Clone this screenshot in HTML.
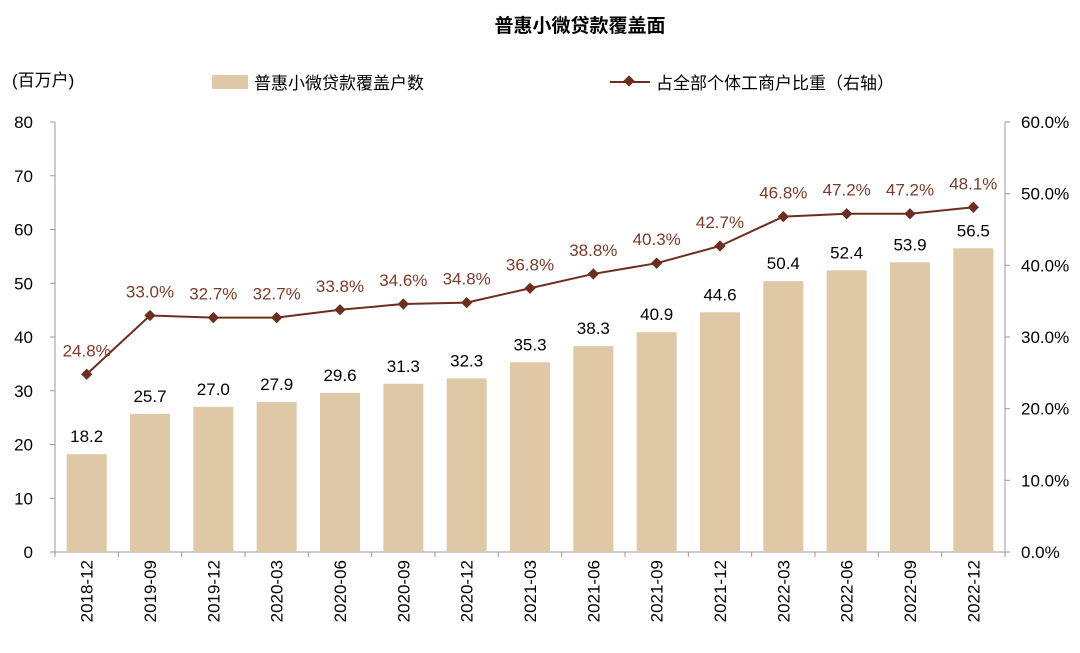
<!DOCTYPE html>
<html><head><meta charset="utf-8">
<style>
body{margin:0;background:#fff;font-family:"Liberation Sans","Noto Sans CJK SC",sans-serif;}
svg text{font-family:"Liberation Sans","Noto Sans CJK SC",sans-serif;}
</style></head>
<body>
<svg id="chart" width="1080" height="648" xmlns="http://www.w3.org/2000/svg">
<text x="580" y="32" text-anchor="middle" font-size="19" font-weight="bold" fill="#000">普惠小微贷款覆盖面</text>
<text x="12" y="86" font-size="17" fill="#000">(百万户)</text>
<g>
<rect x="212" y="75" width="36" height="14" fill="#dfc8a6"/>
<text x="254" y="89" font-size="17" fill="#000">普惠小微贷款覆盖户数</text>
<line x1="610" y1="82" x2="650" y2="82" stroke="#6b2e1f" stroke-width="2"/>
<rect x="625" y="77" width="8" height="8" fill="#6b2e1f" transform="rotate(45 629 81)"/>
<text x="656" y="89" font-size="17" fill="#000">占全部个体工商户比重（右轴）</text>
</g>
<g id="axes"></g>
<g id="bars"></g>
<g id="line"></g>
</svg>
<script>
const categories=["2018-12","2019-09","2019-12","2020-03","2020-06","2020-09","2020-12","2021-03","2021-06","2021-09","2021-12","2022-03","2022-06","2022-09","2022-12"];
const households=[18.2,25.7,27.0,27.9,29.6,31.3,32.3,35.3,38.3,40.9,44.6,50.4,52.4,53.9,56.5];
const shares=[24.8,33.0,32.7,32.7,33.8,34.6,34.8,36.8,38.8,40.3,42.7,46.8,47.2,47.2,48.1];
const leftTicks=[0,10,20,30,40,50,60,70,80];
const rightTicks=[0,10,20,30,40,50,60];
const NS="http://www.w3.org/2000/svg";
const X0=55,X1=1005,Y0=552,Y1=122;
const band=(X1-X0)/categories.length;
const xc=i=>X0+band*(i+0.5);
const yL=v=>Y0-(v/80)*(Y0-Y1);
const yR=v=>Y0-(v/60)*(Y0-Y1);
function mk(tag,attrs,parent,text){const e=document.createElementNS(NS,tag);for(const k in attrs)e.setAttribute(k,attrs[k]);if(text!==undefined)e.textContent=text;parent.appendChild(e);return e;}
const ax=document.getElementById('axes');
let e=mk('line',{x1:X0,y1:Y1,x2:X0,y2:Y0,stroke:'#999'},ax);


e=mk('line',{x1:X1,y1:Y1,x2:X1,y2:Y0,stroke:'#999'},ax);


e=mk('line',{x1:X0,y1:Y0,x2:X1,y2:Y0,stroke:'#999'},ax);


leftTicks.forEach(t=>{
 mk('line',{x1:X0-5,y1:yL(t),x2:X0,y2:yL(t),stroke:'#999'},ax);
 e=mk('text',{x:X0-22,y:yL(t)+6,'text-anchor':'end','font-size':17},ax,String(t));
 
 
});
rightTicks.forEach(t=>{
 mk('line',{x1:X1,y1:yR(t),x2:X1+5,y2:yR(t),stroke:'#999'},ax);
 e=mk('text',{x:X1+16,y:yR(t)+6,'font-size':17},ax,t.toFixed(1)+'%');
 
 
});
categories.forEach((c,i)=>{
 mk('line',{x1:X0+band*i,y1:Y0,x2:X0+band*i,y2:Y0+5,stroke:'#999'},ax);
 e=mk('text',{x:0,y:0,'text-anchor':'end','font-size':17,transform:`translate(${xc(i)+6},560) rotate(-90)`},ax,c);
 
 
});
mk('line',{x1:X1,y1:Y0,x2:X1,y2:Y0+5,stroke:'#999'},ax);
const bg=document.getElementById('bars');
households.forEach((v,i)=>{
 e=mk('rect',{x:xc(i)-20,y:yL(v),width:40,height:Y0-yL(v),fill:'#dfc8a6'},bg);
 
 
 e=mk('text',{x:xc(i),y:yL(v)-12,'text-anchor':'middle','font-size':17},bg,v.toFixed(1));
 
 
});
const lg=document.getElementById('line');
e=mk('polyline',{points:shares.map((v,i)=>xc(i)+','+yR(v)).join(' '),fill:'none',stroke:'#6b2e1f','stroke-width':2},lg);


shares.forEach((v,i)=>{
 e=mk('rect',{x:xc(i)-4,y:yR(v)-4,width:8,height:8,fill:'#6b2e1f',transform:`rotate(45 ${xc(i)} ${yR(v)})`},lg);
 
 
 e=mk('text',{x:xc(i),y:yR(v)-18,'text-anchor':'middle','font-size':17,fill:'#7b3b2a'},lg,v.toFixed(1)+'%');
 
 
});
</script>
</body></html>
